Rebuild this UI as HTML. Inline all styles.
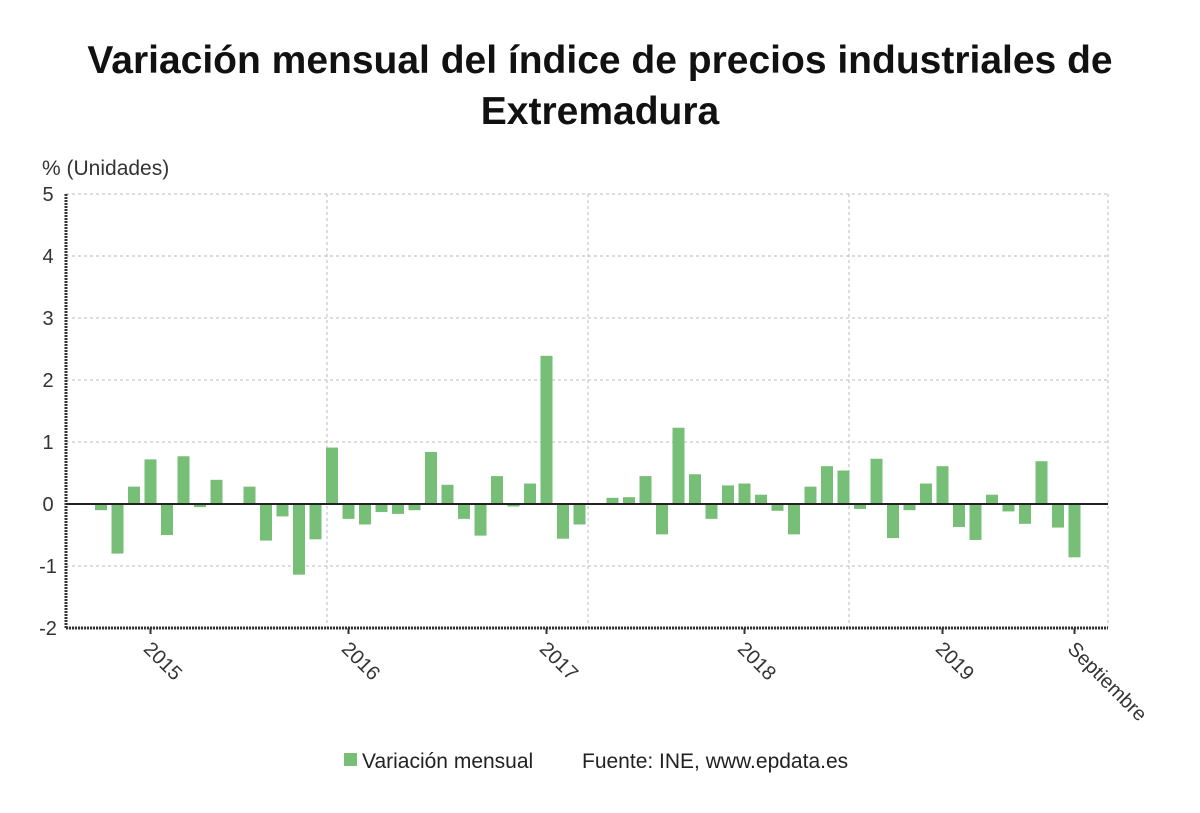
<!DOCTYPE html>
<html><head><meta charset="utf-8"><style>
body{margin:0;background:#fff;width:1200px;height:808px;overflow:hidden;font-family:"Liberation Sans",sans-serif}
</style></head><body>
<svg id="chart" width="1200" height="808" xmlns="http://www.w3.org/2000/svg" font-family="Liberation Sans, sans-serif">
<text x="600" y="73" text-anchor="middle" font-size="39" font-weight="bold" fill="#111">Variación mensual del índice de precios industriales de</text>
<text x="600" y="124" text-anchor="middle" font-size="39" font-weight="bold" fill="#111">Extremadura</text>
<text x="42" y="175" font-size="21" fill="#333">% (Unidades)</text>
<g id="grid"></g><g id="bars"></g><g id="axes"></g>
<rect x="344" y="753" width="13" height="13" fill="#77bf77"/>
<text x="362" y="768" font-size="21" fill="#222">Variación mensual</text>
<text x="582" y="768" font-size="21" fill="#222">Fuente: INE, www.epdata.es</text>
</svg>
<script>
const values=[-0.1,-0.8,0.28,0.72,-0.5,0.77,-0.05,0.39,-0.01,0.28,-0.59,-0.2,-1.14,-0.57,0.91,
-0.24,-0.33,-0.13,-0.16,-0.1,0.84,0.31,-0.24,-0.51,0.45,-0.04,0.33,
2.39,-0.56,-0.33,0.01,0.1,0.11,0.45,-0.49,1.23,0.48,-0.24,0.3,
0.33,0.15,-0.11,-0.49,0.28,0.61,0.54,-0.08,0.73,-0.55,-0.1,0.33,
0.61,-0.37,-0.58,0.15,-0.12,-0.32,0.69,-0.38,-0.86];
const yTicks=[5,4,3,2,1,0,-1,-2];
const xLabels=["2015","2016","2017","2018","2019","Septiembre"];
const xLabelIdx=[3,15,27,39,51,59];
const NS="http://www.w3.org/2000/svg";
const x0=66,x1=1108,yTop=194,yBot=628;
const y=v=>yTop+(5-v)*(yBot-yTop)/7;
const xi=i=>101+i*16.5;
function mk(t,a,p){const e=document.createElementNS(NS,t);for(const k in a)e.setAttribute(k,a[k]);p.appendChild(e);return e;}
const grid=document.getElementById('grid'),bars=document.getElementById('bars'),axes=document.getElementById('axes');
yTicks.forEach(v=>{
 const l=mk('line',{x1:x0,x2:x1,y1:y(v),y2:y(v),stroke:'#bbb','stroke-dasharray':'3,3'},grid);
 
 
 const t=mk('text',{x:48,y:y(v)+7,'text-anchor':'middle','font-size':20,fill:'#333'},axes);
 t.textContent=v;
 
 
});
[327,588,849,1108].forEach(px=>{
 const l=mk('line',{x1:px,x2:px,y1:yTop,y2:yBot,stroke:'#bbb','stroke-dasharray':'3,3'},grid);
 
 
});
values.forEach((v,i)=>{
 const r=mk('rect',{x:xi(i)-6,width:12,y:Math.min(y(v),y(0)),height:Math.abs(y(v)-y(0)),fill:'#77bf77'},bars);
 
 
});
mk('line',{x1:x0,x2:x1,y1:y(0),y2:y(0),stroke:'#222','stroke-width':2},axes);
mk('line',{x1:x0,x2:x0,y1:yTop,y2:yBot,stroke:'#333','stroke-width':3,'stroke-dasharray':'2,1'},axes);
mk('line',{x1:x0,x2:x1,y1:yBot,y2:yBot,stroke:'#333','stroke-width':3,'stroke-dasharray':'2,1'},axes);
xLabels.forEach((s,k)=>{
 const px=xi(xLabelIdx[k]);
 mk('line',{x1:px,x2:px,y1:yBot,y2:yBot+6,stroke:'#333','stroke-width':2},axes);
 const t=mk('text',{x:px-8,y:yBot+22,'font-size':20,fill:'#333',transform:`rotate(45 ${px-8} ${yBot+22})`},axes);
 t.textContent=s;
 
 
});
</script>
</body></html>
